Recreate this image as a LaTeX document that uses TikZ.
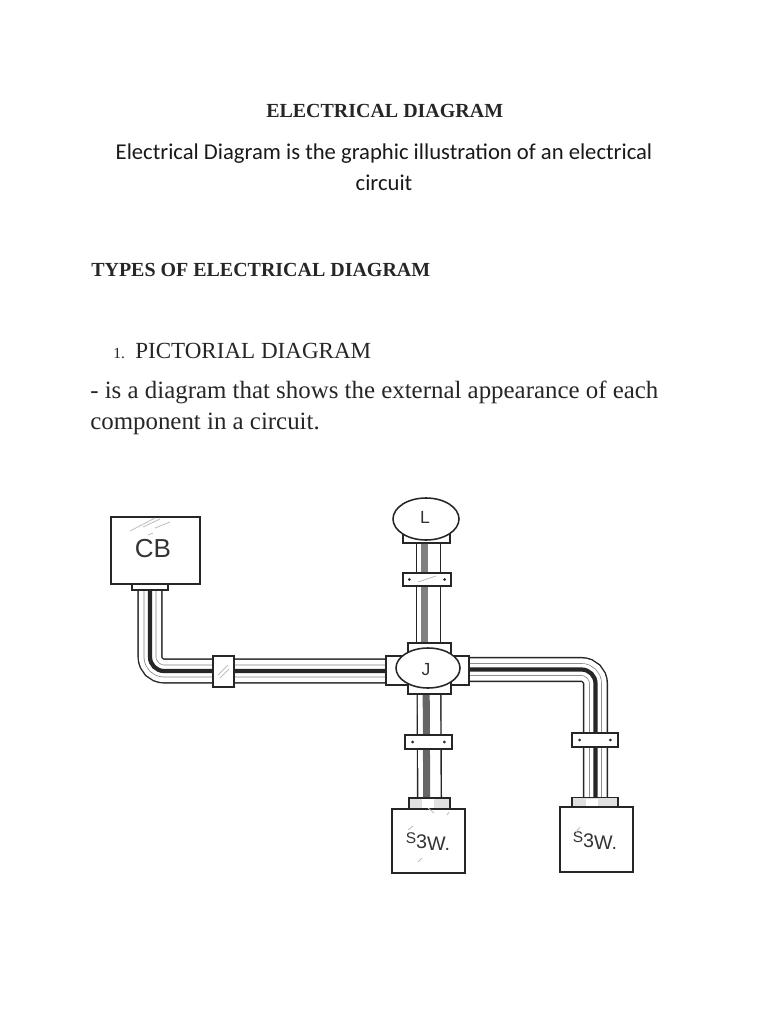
\documentclass[tikz,border=0pt]{standalone}
\usepackage{fontspec}
\setmainfont{Liberation Serif}
\newfontfamily\bodyfont{Carlito}
\newfontfamily\labelfont{Liberation Sans}
\usetikzlibrary{positioning}
\usetikzlibrary{shapes.geometric}
\tikzset{
  headtext/.style={font=\fontsize{14.2}{16}\selectfont\bfseries,text=black!85,anchor=base west,inner sep=0pt},
  bodytext/.style={font=\bodyfont\fontsize{16.1}{20}\selectfont,text=black!90,anchor=base,inner sep=0pt},
  seriftext/.style={font=\fontsize{17.7}{20}\selectfont,text=black!85,anchor=base west,inner sep=0pt},
  boxnode/.style={draw=black!85,fill=white,line width=1.3pt,inner sep=0pt},
  collar/.style={draw=black!85,fill=white,line width=1pt,inner sep=0pt},
  lampnode/.style={draw=black!85,fill=white,ellipse,line width=1.1pt,inner sep=0pt},
  boxlabel/.style={font=\labelfont\fontsize{12.5}{14}\selectfont,text=black!80,inner sep=0pt},
  pipewall/.style={draw=black!85,line width=17.8pt,rounded corners=10pt},
  pipebore/.style={draw=white,line width=15.8pt,rounded corners=10pt},
  pipegroove/.style={draw=black!50,line width=9pt,rounded corners=10pt},
  pipeslot/.style={draw=white,line width=8pt,rounded corners=10pt},
  pipecore/.style={draw=black!85,line width=3pt,rounded corners=10pt},
  sketch/.style={draw=black!25,line width=0.6pt},
}
\newcommand{\swtext}{\raisebox{3pt}{\fontsize{11}{12}\selectfont S}{\fontsize{14}{14}\selectfont 3\raisebox{-2pt}{W.}}}
\begin{document}
\begin{tikzpicture}[x=0.025cm,y=-0.025cm]
\useasboundingbox (0,0) rectangle (768,1024);

% text
\node[headtext] (title) at (266,118) {ELECTRICAL DIAGRAM};
\node[bodytext] (line1) at (384,160) {Electrical Diagram is the graphic illustration of an electrical};
\node[bodytext] (line2) at (384,191) {circuit};
\node[headtext] (types) at (91,276) {TYPES OF ELECTRICAL DIAGRAM};
\node[seriftext,font=\fontsize{11}{14}\selectfont] (num) at (113,358) {1.};
\node[seriftext,font=\fontsize{16.4}{20}\selectfont] (pict) at (135,358) {PICTORIAL DIAGRAM};
\node[seriftext] (desc1) at (90,398) {- is a diagram that shows the external appearance of each};
\node[seriftext] (desc2) at (90,429) {component in a circuit.};

% pipe ends
\coordinate (cbneck) at (150,587);
\coordinate (jleft) at (387,671);
\coordinate (jright) at (468,669.5);
\coordinate (jtop) at (428.5,645);
\coordinate (jbot) at (429,692);
\coordinate (lneck) at (428.5,541);
\coordinate (swaneck) at (429.5,800);
\coordinate (swbneck) at (595.5,800);

% pipes
\foreach \layer in {pipewall,pipebore,pipegroove,pipeslot,pipecore} {
  \draw[\layer] (cbneck) |- (jleft);
  \draw[\layer] (jright) -| (swbneck);
}
\foreach \layer in {pipewall,pipebore} {
  \draw[\layer] (lneck) -- (jtop);
  \draw[\layer] (jbot) -- (swaneck);
}
\draw[pipecore,draw=black!50,line width=5pt] ([xshift=-3]lneck) -- ([xshift=-3]jtop);
\draw[pipecore,draw=black!60,line width=5pt] ([xshift=-2]jbot) -- ([xshift=-2]swaneck);

% clamps
\node[collar,minimum width=0.525cm,minimum height=0.775cm] (hclamp) at (223.5,671.5) {};
\node[collar,minimum width=1.2cm,minimum height=0.325cm] (lclamp) at (427,579.5) {};
\node[collar,minimum width=1.175cm,minimum height=0.35cm] (aclamp) at (428.5,742) {};
\node[collar,minimum width=1.15cm,minimum height=0.35cm] (bclamp) at (595,740) {};
\fill[black!85] ([xshift=5]lclamp.west) circle (1.5);
\fill[black!85] ([xshift=-5]lclamp.east) circle (1.5);
\fill[black!85] ([xshift=6]aclamp.west) circle (1.5);
\fill[black!85] ([xshift=-6]aclamp.east) circle (1.5);
\fill[black!85] ([xshift=6]bclamp.west) circle (1.5);
\fill[black!85] ([xshift=-6]bclamp.east) circle (1.5);
\draw[sketch] (218,675) -- (228,665);
\draw[sketch] (220,678) -- (229,669);
\draw[sketch] (418,582) -- (436,576);

% necks
\node[collar,minimum width=0.9cm,minimum height=0.15cm] (cbcollar) at (150,587) {};
\node[collar,minimum width=1.175cm,minimum height=0.3cm] (lcollar) at (426.5,537) {};
\node[collar,minimum width=2.075cm,minimum height=0.725cm] (jh) at (427.5,670.5) {};
\node[collar,minimum width=1.075cm,minimum height=1.275cm] (jv) at (429.5,668.5) {};
\node[collar,fill=black!12,minimum width=1.025cm,minimum height=0.275cm] (acollar) at (429.5,803.5) {};
\node[collar,fill=black!12,minimum width=1.15cm,minimum height=0.25cm] (bcollar) at (595,802.5) {};
\node[draw=none,fill=white,inner sep=0pt,minimum width=0.3cm,minimum height=0.225cm] (awhite) at (428,803.5) {};
\node[draw=none,fill=white,inner sep=0pt,minimum width=0.3cm,minimum height=0.2cm] (bwhite) at (592,802.5) {};

% devices
\node[boxnode,minimum width=2.225cm,minimum height=1.675cm] (CB) at (155.5,550.5) {};
\node[boxnode,minimum width=1.825cm,minimum height=1.6cm] (swa) at (428.5,841) {};
\node[boxnode,minimum width=1.825cm,minimum height=1.625cm] (swb) at (596.5,839.5) {};
\node[lampnode,minimum width=1.65cm,minimum height=1.05cm] (L) at (426,519) {};
\node[lampnode,minimum width=1.6cm,minimum height=1cm] (J) at (428,668) {};

% labels
\node[boxlabel] (cbtext) at (153,549) {\fontsize{18.5}{20}\selectfont CB};
\node[boxlabel] (ltext) at (425,517) {L};
\node[boxlabel] (jtext) at (426,670) {J};
\node[boxlabel] (satext) at (428,842) {\swtext};
\node[boxlabel] (sbtext) at (595,841) {\swtext};

% sketch marks
\draw[sketch] (130,531) -- (155,518);
\draw[sketch] (143,527) -- (160,519);
\draw[sketch] (155,528) -- (170,522);
\draw[sketch] (148,535) -- (153,533);
\draw[sketch] (428,808) -- (434,813);
\draw[sketch] (447,815) -- (449,812);
\draw[sketch] (408,830) -- (413,826);
\draw[sketch] (418,862) -- (422,858);
\draw[sketch] (576,832) -- (580,827);
\end{tikzpicture}
\end{document}
